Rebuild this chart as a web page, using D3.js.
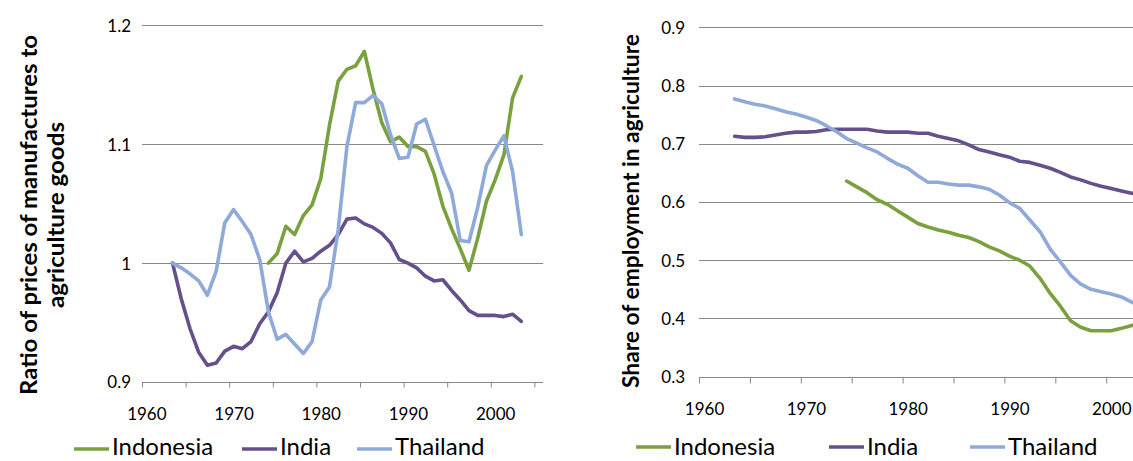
<!DOCTYPE html>
<html>
<head>
<meta charset="utf-8">
<script src="https://cdn.jsdelivr.net/npm/d3@7"></script>
<style>
  html, body { margin: 0; padding: 0; background: #ffffff; }
  svg { display: block; }
  text { font-family: Lato, "Noto Sans", sans-serif; fill: #000; }
</style>
</head>
<body>
<svg id="chart" width="1133" height="461"></svg>
<script>
// ---------------- DATA ----------------
const seriesNames = ["Indonesia", "India", "Thailand"];
const seriesColors = ["#7aa13f", "#66508c", "#8eaad8"];
const categoryYears = d3.range(1960, 2006);        // category axis 1960..2005
const xLabelYears = [1960, 1970, 1980, 1990, 2000];
const xTickYears = d3.range(1960, 2006, 5);

// Left panel: ratio of prices of manufactures to agriculture goods
const priceStartYears = [1974, 1963, 1963];
const priceIndonesia = [1.000, 1.008, 1.031, 1.024, 1.040, 1.049, 1.071, 1.116, 1.153, 1.163,
  1.166, 1.178, 1.146, 1.118, 1.102, 1.106, 1.098, 1.098, 1.094, 1.075,
  1.048, 1.029, 1.012, 0.994, 1.021, 1.052, 1.070, 1.091, 1.139, 1.157];
const priceIndia = [1.000, 0.970, 0.945, 0.925, 0.914, 0.916, 0.926, 0.930, 0.928, 0.934,
  0.949, 0.959, 0.975, 1.000, 1.010, 1.001, 1.004, 1.010, 1.015, 1.024,
  1.037, 1.038, 1.033, 1.030, 1.025, 1.017, 1.003, 1.000, 0.996, 0.989,
  0.985, 0.986, 0.977, 0.969, 0.960, 0.956, 0.956, 0.956, 0.955, 0.957, 0.951];
const priceThailand = [1.000, 0.996, 0.991, 0.985, 0.973, 0.993, 1.034, 1.045, 1.035, 1.024,
  1.003, 0.959, 0.936, 0.940, 0.932, 0.924, 0.934, 0.969, 0.980, 1.028,
  1.098, 1.135, 1.135, 1.141, 1.134, 1.108, 1.088, 1.089, 1.117, 1.121,
  1.099, 1.077, 1.059, 1.019, 1.018, 1.047, 1.082, 1.095, 1.107, 1.077, 1.024];
const priceTicks = [0.9, 1.0, 1.1, 1.2];

// Right panel: share of employment in agriculture
const empStartYears = [1974, 1963, 1963];
const empIndonesia = [0.636, 0.626, 0.616, 0.604, 0.596, 0.585, 0.574, 0.563, 0.557, 0.552,
  0.548, 0.543, 0.539, 0.532, 0.523, 0.516, 0.507, 0.500, 0.490, 0.469,
  0.443, 0.421, 0.396, 0.385, 0.379, 0.379, 0.379, 0.383, 0.388, 0.392];
const empIndia = [0.713, 0.711, 0.711, 0.712, 0.715, 0.718, 0.720, 0.720, 0.721, 0.724,
  0.725, 0.725, 0.725, 0.725, 0.722, 0.720, 0.720, 0.720, 0.718, 0.718,
  0.713, 0.709, 0.705, 0.698, 0.690, 0.686, 0.681, 0.677, 0.670, 0.668,
  0.663, 0.658, 0.651, 0.643, 0.638, 0.632, 0.627, 0.623, 0.619, 0.615, 0.613];
const empThailand = [0.777, 0.772, 0.768, 0.765, 0.760, 0.755, 0.751, 0.746, 0.740, 0.731,
  0.721, 0.709, 0.701, 0.693, 0.686, 0.675, 0.665, 0.658, 0.645, 0.634,
  0.634, 0.631, 0.629, 0.629, 0.626, 0.622, 0.612, 0.599, 0.589, 0.569,
  0.549, 0.519, 0.497, 0.474, 0.459, 0.450, 0.446, 0.442, 0.437, 0.428, 0.420];
const empTicks = [0.3, 0.4, 0.5, 0.6, 0.7, 0.8, 0.9];

// ---------------- DRAW ----------------
const svg = d3.select("#chart");
const gridColor = "#888888";
const fmt = d => String(+d.toFixed(1));

function panel(cfg) {
  const g = svg.append("g");
  const x = d3.scaleLinear()
    .domain([categoryYears[0], categoryYears[categoryYears.length - 1] + 1])
    .range([cfg.left, cfg.left + categoryYears.length * cfg.slot]);
  const y = d3.scaleLinear().domain(cfg.yDomain).range([cfg.bottom, cfg.top]);
  const plotRight = Math.min(x.range()[1], 1133);

  // gridlines
  g.append("g").selectAll("line")
    .data(cfg.yTicks.slice(1))
    .join("line")
    .attr("x1", cfg.left).attr("x2", plotRight)
    .attr("y1", d => Math.round(y(d)) + 0.5).attr("y2", d => Math.round(y(d)) + 0.5)
    .attr("stroke", gridColor).attr("stroke-width", 1);

  // y axis labels
  const yAxis = d3.axisLeft(y).tickValues(cfg.yTicks).tickFormat(fmt)
    .tickSize(0).tickPadding(cfg.yPad);
  const ya = g.append("g").attr("transform", `translate(${cfg.left},0)`).call(yAxis);
  ya.select(".domain").remove();
  ya.selectAll("text").style("font-size", "17px").style("font-family", "Lato, sans-serif").attr("dy", "0.35em");

  // x axis: line + tick marks at category boundaries
  const xAxisTicks = d3.axisBottom(x).tickValues(xTickYears).tickFormat("").tickSizeInner(cfg.tickLen).tickSizeOuter(0);
  const xa = g.append("g").attr("transform", `translate(0,${Math.round(cfg.bottom) + 0.5})`).call(xAxisTicks);
  xa.select(".domain").attr("stroke", gridColor).attr("d", `M${cfg.left},0H${x.range()[1]}`);
  xa.selectAll(".tick line").attr("stroke", gridColor);

  // x labels centred in category slots
  const xAxisLabels = d3.axisBottom(x).tickValues(xLabelYears.map(v => v + 0.5))
    .tickFormat(d => String(Math.floor(d))).tickSize(0).tickPadding(0);
  const xl = g.append("g").attr("transform", `translate(0,${cfg.labelY})`).call(xAxisLabels);
  xl.select(".domain").remove();
  xl.selectAll("text").style("font-size", "17px").style("font-family", "Lato, sans-serif").attr("dy", "0");

  // lines
  const line = d3.line().x(d => x(d.year + 0.5)).y(d => y(d.value));
  cfg.series.forEach((vals, i) => {
    const data = vals.map((v, k) => ({ year: cfg.starts[i] + k, value: v }));
    g.append("path").datum(data)
      .attr("fill", "none").attr("stroke", seriesColors[i])
      .attr("stroke-width", 3.6).attr("stroke-linejoin", "round").attr("stroke-linecap", "round")
      .attr("d", line);
  });

  // title (rotated)
  cfg.title.forEach((t, i) => {
    g.append("text")
      .attr("transform", `translate(${t.x},${cfg.titleCy}) rotate(-90)`)
      .attr("text-anchor", "middle")
      .attr("textLength", t.len).attr("lengthAdjust", "spacingAndGlyphs")
      .style("font-weight", "700").style("font-size", "22px")
      .text(t.text);
  });

  // legend
  const lg = g.append("g");
  seriesNames.forEach((name, i) => {
    const L = cfg.legend[i];
    lg.append("line").attr("x1", L.x).attr("x2", L.x + 35)
      .attr("y1", cfg.legendLineY).attr("y2", cfg.legendLineY)
      .attr("stroke", seriesColors[i]).attr("stroke-width", 3.6);
    lg.append("text").attr("x", L.x + 38).attr("y", cfg.legendTextY)
      .style("font-size", "24px").text(name);
  });
}

panel({
  left: 142, slot: 8.72, top: 25.3, bottom: 382, yDomain: [0.9, 1.2], yTicks: priceTicks,
  yPad: 11, tickLen: 5, labelY: 420,
  series: [priceIndonesia, priceIndia, priceThailand], starts: priceStartYears,
  titleCy: 215,
  title: [{ text: "Ratio of prices of manufactures to", x: 37, len: 360 },
          { text: "agriculture goods", x: 64, len: 186 }],
  legend: [{ x: 74 }, { x: 242 }, { x: 357 }],
  legendLineY: 449, legendTextY: 455
});

panel({
  left: 699, slot: 10.18, top: 27.3, bottom: 376.7, yDomain: [0.3, 0.9], yTicks: empTicks,
  yPad: 14, tickLen: 6, labelY: 415,
  series: [empIndonesia, empIndia, empThailand], starts: empStartYears,
  titleCy: 211,
  title: [{ text: "Share of employment in agriculture", x: 639, len: 354 }],
  legend: [{ x: 636 }, { x: 829 }, { x: 970 }],
  legendLineY: 447, legendTextY: 455
});
</script>
</body>
</html>
